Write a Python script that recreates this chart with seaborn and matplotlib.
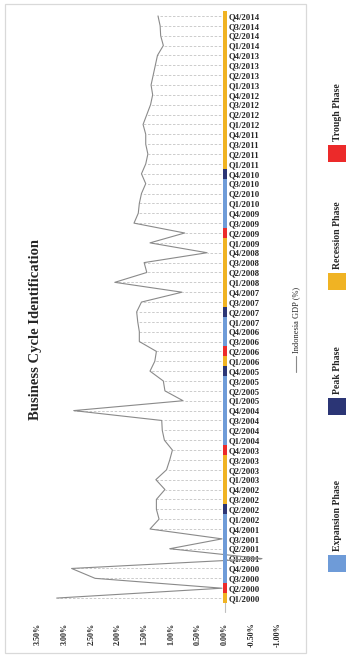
import matplotlib
matplotlib.use('Agg')
import matplotlib.pyplot as plt
import seaborn as sns
import pandas as pd
from matplotlib.patches import Rectangle
from matplotlib.lines import Line2D
from matplotlib.transforms import ScaledTranslation

quarters = [
    "Q1/2000", "Q2/2000", "Q3/2000", "Q4/2000",
    "Q1/2001", "Q2/2001", "Q3/2001", "Q4/2001",
    "Q1/2002", "Q2/2002", "Q3/2002", "Q4/2002",
    "Q1/2003", "Q2/2003", "Q3/2003", "Q4/2003",
    "Q1/2004", "Q2/2004", "Q3/2004", "Q4/2004",
    "Q1/2005", "Q2/2005", "Q3/2005", "Q4/2005",
    "Q1/2006", "Q2/2006", "Q3/2006", "Q4/2006",
    "Q1/2007", "Q2/2007", "Q3/2007", "Q4/2007",
    "Q1/2008", "Q2/2008", "Q3/2008", "Q4/2008",
    "Q1/2009", "Q2/2009", "Q3/2009", "Q4/2009",
    "Q1/2010", "Q2/2010", "Q3/2010", "Q4/2010",
    "Q1/2011", "Q2/2011", "Q3/2011", "Q4/2011",
    "Q1/2012", "Q2/2012", "Q3/2012", "Q4/2012",
    "Q1/2013", "Q2/2013", "Q3/2013", "Q4/2013",
    "Q1/2014", "Q2/2014", "Q3/2014", "Q4/2014",
]

gdp = [
    3.15, 0.05, 2.43, 2.87,
    -0.70, 1.03, 0.05, 1.40,
    1.23, 1.28, 1.28, 1.12,
    1.29, 1.09, 1.03, 0.98,
    1.13, 1.17, 1.18, 2.83,
    0.78, 1.12, 1.15, 1.40,
    1.31, 1.28, 1.60, 1.60,
    1.63, 1.65, 1.56, 0.80,
    2.06, 1.46, 1.51, 0.33,
    1.40, 0.75, 1.70, 1.62,
    1.60, 1.56, 1.48, 1.56,
    1.48, 1.44, 1.48, 1.48,
    1.53, 1.46, 1.39, 1.35,
    1.38, 1.34, 1.30, 1.26,
    1.15, 1.20, 1.21, 1.25,
]

phases = [
    "Recession", "Trough", "Expansion", "Expansion",
    "Expansion", "Expansion", "Expansion", "Expansion",
    "Expansion", "Peak", "Recession", "Recession",
    "Recession", "Recession", "Recession", "Trough",
    "Expansion", "Expansion", "Expansion", "Expansion",
    "Expansion", "Expansion", "Expansion", "Peak",
    "Recession", "Trough", "Expansion", "Expansion",
    "Expansion", "Peak", "Recession", "Recession",
    "Recession", "Recession", "Recession", "Recession",
    "Recession", "Trough", "Expansion", "Expansion",
    "Expansion", "Expansion", "Expansion", "Peak",
    "Recession", "Recession", "Recession", "Recession",
    "Recession", "Recession", "Recession", "Recession",
    "Recession", "Recession", "Recession", "Recession",
    "Recession", "Recession", "Recession", "Recession",
]

value_ticks = [3.5, 3.0, 2.5, 2.0, 1.5, 1.0, 0.5, 0.0, -0.5, -1.0]
value_tick_labels = ["3.50%", "3.00%", "2.50%", "2.00%", "1.50%", "1.00%",
                     "0.50%", "0.00%", "-0.50%", "-1.00%"]

legend_phases = ["Expansion", "Peak", "Recession", "Trough"]
phase_colors = {
    "Expansion": "#6E9BD8",
    "Peak": "#2B3575",
    "Recession": "#F0B323",
    "Trough": "#EC2A2A",
}

df = pd.DataFrame({"quarter": quarters, "gdp": gdp, "phase": phases})
df["pos"] = range(len(df))

W, H = 355, 662
sns.set_style("white")
plt.rcParams["font.family"] = ["Liberation Serif", "DejaVu Serif"]

fig = plt.figure(figsize=(W / 100, H / 100), dpi=100)
fig.patch.set_facecolor("white")

# outer chart border
fig.patches.append(Rectangle((5 / W, 1 - 653 / H), 301 / W, 649 / H,
                             transform=fig.transFigure, fill=False,
                             ec="#D9D9D9", lw=0.9))

ax = fig.add_axes([38 / W, 1 - 603 / H, 240 / W, 592 / H])
ax.set_facecolor("none")

# zero axis line
ax.axvline(0, ymin=-0.015, ymax=1, color="#BFBFBF", lw=0.8, zorder=1,
           clip_on=False)

# drop lines from each point to zero
ax.hlines(df["pos"], 0, df["gdp"], colors="#C4C4C4",
          linestyles=(0, (3.0, 2.0)), lw=0.6, zorder=1)

# GDP line
sns.lineplot(data=df, x="gdp", y="pos", orient="y", sort=True,
             color="#8A8A8A", lw=0.8, ax=ax, legend=False, zorder=2)

# business cycle phase strip along zero line
ax.barh(df["pos"], 0.08, left=-0.04, height=1.0,
        color=df["phase"].map(phase_colors), linewidth=0, zorder=3)

ax.set_xlim(3.5, -1.0)
ax.set_ylim(-0.5, len(df) - 0.5)

ax.set_xticks(value_ticks)
ax.set_xticklabels(value_tick_labels, rotation=90, fontsize=5.8,
                   fontweight="bold")
ax.tick_params(axis="x", length=0, pad=14)

# quarter labels placed next to the zero line
ax.yaxis.tick_right()
ax.spines["right"].set_position(("data", 0))
ax.set_yticks(df["pos"])
ax.set_yticklabels(df["quarter"])
ax.tick_params(axis="y", length=0, pad=3, labelsize=6.3)
for tick in ax.yaxis.get_major_ticks():
    for lab in (tick.label1, tick.label2):
        lab.set_fontsize(6.3)
        lab.set_fontweight("bold")

for s in ax.spines.values():
    s.set_visible(False)

ax.set_xlabel("")
ax.set_ylabel("")

# title
fig.text(36 / W, 1 - 329 / H, "Business Cycle Identification", rotation=90,
         ha="center", va="center", fontsize=10.5, fontweight="bold")

# series legend
fig.add_artist(Line2D([296 / W, 296 / W], [1 - 372 / H, 1 - 356 / H],
                      color="#8A8A8A", lw=0.8, transform=fig.transFigure))
fig.text(296 / W, 1 - 353 / H, "Indonesia GDP (%)", rotation=90,
         ha="center", va="bottom", fontsize=6)

# phase legend
sq_bottoms = {"Expansion": 572, "Peak": 415, "Recession": 290, "Trough": 162}
for ph in legend_phases:
    b = sq_bottoms[ph]
    fig.patches.append(Rectangle((328 / W, 1 - b / H), 18 / W, 17 / H,
                                 transform=fig.transFigure,
                                 fc=phase_colors[ph], ec="none"))
    fig.text(338 / W, 1 - (b - 21) / H, ph + " Phase", rotation=90,
             ha="center", va="bottom", fontsize=7, fontweight="bold")

fig.savefig("out.png", dpi=100, facecolor="white")
